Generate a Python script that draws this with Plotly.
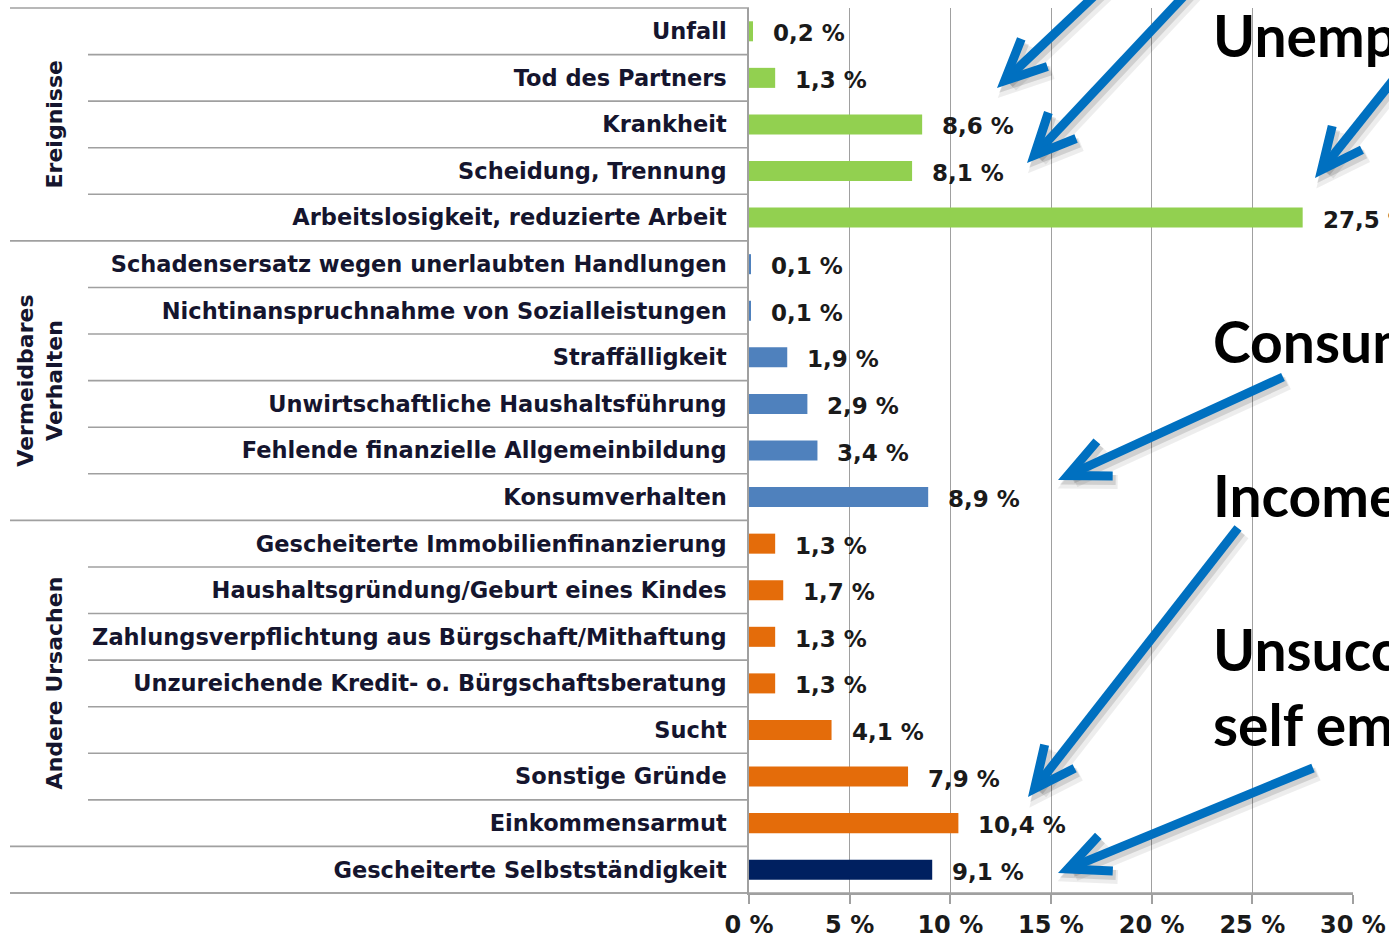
import math
import plotly.graph_objects as go

# ---------------- data ----------------
categories = [
    "Unfall",
    "Tod des Partners",
    "Krankheit",
    "Scheidung, Trennung",
    "Arbeitslosigkeit, reduzierte Arbeit",
    "Schadensersatz wegen unerlaubten Handlungen",
    "Nichtinanspruchnahme von Sozialleistungen",
    "Straffälligkeit",
    "Unwirtschaftliche Haushaltsführung",
    "Fehlende finanzielle Allgemeinbildung",
    "Konsumverhalten",
    "Gescheiterte Immobilienfinanzierung",
    "Haushaltsgründung/Geburt eines Kindes",
    "Zahlungsverpflichtung aus Bürgschaft/Mithaftung",
    "Unzureichende Kredit- o. Bürgschaftsberatung",
    "Sucht",
    "Sonstige Gründe",
    "Einkommensarmut",
    "Gescheiterte Selbstständigkeit",
]
values = [0.2, 1.3, 8.6, 8.1, 27.5,
          0.1, 0.1, 1.9, 2.9, 3.4, 8.9,
          1.3, 1.7, 1.3, 1.3, 4.1, 7.9, 10.4,
          9.1]
groups = ["Ereignisse"] * 5 + ["Vermeidbares Verhalten"] * 6 + ["Andere Ursachen"] * 7 + ["Selbstständigkeit"]
group_names = ["Ereignisse", "Vermeidbares Verhalten", "Andere Ursachen", "Selbstständigkeit"]
group_labels = ["Ereignisse", "Vermeidbares<br>Verhalten", "Andere Ursachen", ""]
group_colors = {"Ereignisse": "#92D050", "Vermeidbares Verhalten": "#4F81BD",
                "Andere Ursachen": "#E46C0A", "Selbstständigkeit": "#002060"}
x_tickvals = [0, 5, 10, 15, 20, 25, 30]
x_ticktext = ["0 %", "5 %", "10 %", "15 %", "20 %", "25 %", "30 %"]
callouts = ["Unemployment", "Consumer behaviour", "Income poverty", "Unsuccessful", "self employment"]

value_text = [f"{v:.1f}".replace(".", ",") + " %" for v in values]
bar_colors = [group_colors[g] for g in groups]
N = len(categories)

# ---------------- layout geometry (pixels) ----------------
W, H = 1389, 934
PL, PR, PT, PB = 749, 1353, 8, 893


def xp(px):
    return (px - PL) / (PR - PL)


def yp(py):
    return (PB - py) / (PB - PT)


GRAY = "#a0a0a0"
TXT = "#15152e"

fig = go.Figure()
fig.add_trace(go.Bar(
    y=categories, x=values, orientation="h",
    marker=dict(color=bar_colors, line=dict(width=0)),
    width=0.43, hoverinfo="x+y",
))

shapes = []
# row separators
for k in range(N + 1):
    if k in (0, 5, 11, 18, N):
        x0 = xp(10)
    else:
        x0 = xp(88)
    y = 1 - k / N
    shapes.append(dict(type="line", xref="paper", yref="paper", x0=x0, x1=0, y0=y, y1=y,
                       line=dict(color=GRAY, width=1.6)))
shapes.append(dict(type="line", xref="paper", yref="paper", x0=xp(10), x1=1, y0=0, y1=0,
                   line=dict(color=GRAY, width=1.6)))

# arrows (tail px, tip px)
arrows = [
    ((1111, -20), (997, 88)),
    ((1199, -20), (1027, 163)),
    ((1410, 59), (1315, 178)),
    ((1283, 377), (1058, 480)),
    ((1238, 528), (1028, 797)),
    ((1313, 768), (1058, 873)),
]
AW = 9
HALF = math.radians(25)
ARM = 45


def arrow_paths(tail, tip, dx=0, dy=0):
    tx, ty = tail[0] + dx, tail[1] + dy
    hx, hy = tip[0] + dx, tip[1] + dy
    L = math.hypot(tx - hx, ty - hy)
    ux, uy = (tx - hx) / L, (ty - hy) / L
    off = (AW / 2) / math.sin(HALF)
    vx, vy = hx + ux * off, hy + uy * off
    arms = []
    for s in (1, -1):
        c, sn = math.cos(s * HALF), math.sin(s * HALF)
        ax_ = ux * c - uy * sn
        ay_ = ux * sn + uy * c
        arms.append((vx + ax_ * ARM, vy + ay_ * ARM))
    shaft = f"M{xp(tx)},{yp(ty)} L{xp(vx + ux * 2)},{yp(vy + uy * 2)}"
    head = (f"M{xp(arms[0][0])},{yp(arms[0][1])} L{xp(vx)},{yp(vy)} "
            f"L{xp(arms[1][0])},{yp(arms[1][1])}")
    return shaft, head


for tail, tip in arrows:
    for d, col, w in ((5, "rgba(0,0,0,0.07)", AW + 5), (3, "rgba(0,0,0,0.12)", AW + 1)):
        s, h = arrow_paths(tail, tip, d, d + 1)
        for p in (s, h):
            shapes.append(dict(type="path", xref="paper", yref="paper", path=p,
                               line=dict(color=col, width=w)))
for tail, tip in arrows:
    s, h = arrow_paths(tail, tip)
    for p in (s, h):
        shapes.append(dict(type="path", xref="paper", yref="paper", path=p,
                           line=dict(color="#0070C0", width=AW)))

annotations = []
# value labels
for c, v, t in zip(categories, values, value_text):
    annotations.append(dict(x=v, y=c, xref="x", yref="y", text=t, showarrow=False,
                            xanchor="left", yanchor="middle", xshift=18, yshift=-2,
                            font=dict(family="DejaVu Sans", size=23, color="#1a1a1a", weight="bold")))
# group labels
bounds = {"Ereignisse": (0, 5), "Vermeidbares Verhalten": (5, 11), "Andere Ursachen": (11, 18)}
for g, lab in zip(group_names, group_labels):
    if not lab:
        continue
    a, b = bounds[g]
    yc = 1 - (a + b) / 2 / N
    annotations.append(dict(x=xp(40 if "<br>" in lab else 54), y=yc, xref="paper", yref="paper",
                            text=lab, showarrow=False, textangle=-90,
                            xanchor="center", yanchor="middle",
                            font=dict(family="DejaVu Sans", size=22, color=TXT, weight="bold")))
# callout texts
callout_pos = [35, 341, 495, 649, 724]
for t, py in zip(callouts, callout_pos):
    annotations.append(dict(x=xp(1211), y=yp(py), xref="paper", yref="paper", text=t,
                            showarrow=False, xanchor="left", yanchor="middle",
                            font=dict(family="Lato", size=57, color="black", weight="bold")))

fig.update_layout(
    width=W, height=H, autosize=False,
    margin=dict(l=PL, r=W - PR, t=PT, b=H - PB, pad=0, autoexpand=False),
    paper_bgcolor="white", plot_bgcolor="white",
    showlegend=False,
    bargap=0.57,
    shapes=shapes,
    annotations=annotations,
    xaxis=dict(range=[0, 30], tickvals=x_tickvals, ticktext=x_ticktext,
               showgrid=True, gridcolor=GRAY, gridwidth=1.2,
               showline=True, linecolor=GRAY, linewidth=1.6,
               ticks="outside", ticklen=9, tickcolor=GRAY, tickwidth=1.6,
               zeroline=False, ticklabelstandoff=0, automargin=False,
               tickfont=dict(family="DejaVu Sans", size=24, color="#1a1a1a", weight="bold")),
    yaxis=dict(categoryorder="array", categoryarray=categories,
               range=[N - 0.5, -0.5], showgrid=False, zeroline=False,
               showline=True, linecolor=GRAY, linewidth=1.6, ticks="",
               ticklabelstandoff=16, automargin=False,
               tickfont=dict(family="DejaVu Sans", size=22.5, color=TXT, weight="bold")),
)

fig.write_html("out.html",
               config={"responsive": False, "displayModeBar": False},
               post_script="document.body.style.margin='0';")
